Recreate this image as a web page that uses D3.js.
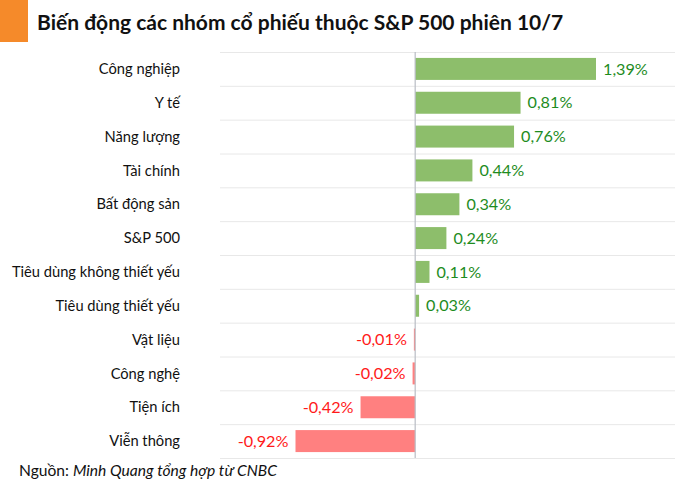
<!DOCTYPE html>
<html><head><meta charset="utf-8">
<script src="https://cdn.jsdelivr.net/npm/d3@7"></script>
<style>body{margin:0;background:#fff;} svg{display:block;font-family:Lato,"Noto Sans",sans-serif;}</style>
</head><body>
<svg id="c" width="700" height="489"></svg>
<script>
const categories = ["Công nghiệp","Y tế","Năng lượng","Tài chính","Bất động sản","S&P 500","Tiêu dùng không thiết yếu","Tiêu dùng thiết yếu","Vật liệu","Công nghệ","Tiện ích","Viễn thông"];
const values = [1.39,0.81,0.76,0.44,0.34,0.24,0.11,0.03,-0.01,-0.02,-0.42,-0.92];
const labels = ["1,39%","0,81%","0,76%","0,44%","0,34%","0,24%","0,11%","0,03%","-0,01%","-0,02%","-0,42%","-0,92%"];
const title = "Biến động các nhóm cổ phiếu thuộc S&P 500 phiên 10/7";

const svg = d3.select("#c");
svg.append("rect").attr("x",0).attr("y",0).attr("width",28).attr("height",42).attr("fill","#F58A2A");
svg.append("text").attr("x",37).attr("y",30).attr("font-size",21).attr("font-weight",700).attr("fill","#111").text(title);

const x = d3.scaleLinear().domain([-0.92,1.39]).range([295.5,596]);
const y = d3.scaleBand().domain(categories).range([52,458]).paddingInner(0.35).paddingOuter(0.175);
const band = d3.scaleBand().domain(categories).range([52,458]);

const bounds = categories.map(c=>band(c)).concat([458]);
svg.append("g").selectAll("line").data(bounds).join("line")
  .attr("x1",220).attr("x2",675).attr("y1",d=>d+0.5).attr("y2",d=>d+0.5)
  .attr("stroke","#e8e8e8").attr("stroke-width",1);

svg.append("g").selectAll("rect").data(values).join("rect")
  .attr("x",d=>Math.min(x(0),x(d)))
  .attr("width",d=>Math.max(1,Math.abs(x(d)-x(0))))
  .attr("y",(d,i)=>y(categories[i]))
  .attr("height",y.bandwidth())
  .attr("fill",d=>d>=0?"#8DBE6B":"#FF8080");

svg.append("line").attr("x1",x(0)).attr("x2",x(0)).attr("y1",52).attr("y2",458)
  .attr("stroke","#b8bcc4").attr("stroke-width",1.2);

svg.append("g").selectAll("text").data(categories).join("text")
  .attr("x",180).attr("y",c=>band(c)+band.bandwidth()/2).attr("dy","0.35em")
  .attr("text-anchor","end").attr("font-size",14.7).attr("fill","#111").text(c=>c);

svg.append("g").selectAll("text").data(values).join("text")
  .attr("x",d=>d>=0?x(d)+7:x(d)-7)
  .attr("y",(d,i)=>band(categories[i])+band.bandwidth()/2).attr("dy","0.35em")
  .attr("text-anchor",d=>d>=0?"start":"end").attr("font-size",16.2)
  .attr("fill",d=>d>=0?"#1E8C1E":"#FF1A1A").text((d,i)=>labels[i]);

const f = svg.append("text").attr("x",19).attr("y",476).attr("font-size",15.6).attr("fill","#111");
f.append("tspan").text("Nguồn: ");
f.append("tspan").attr("font-style","italic").text("Minh Quang tổng hợp từ CNBC");
</script>
</body></html>
